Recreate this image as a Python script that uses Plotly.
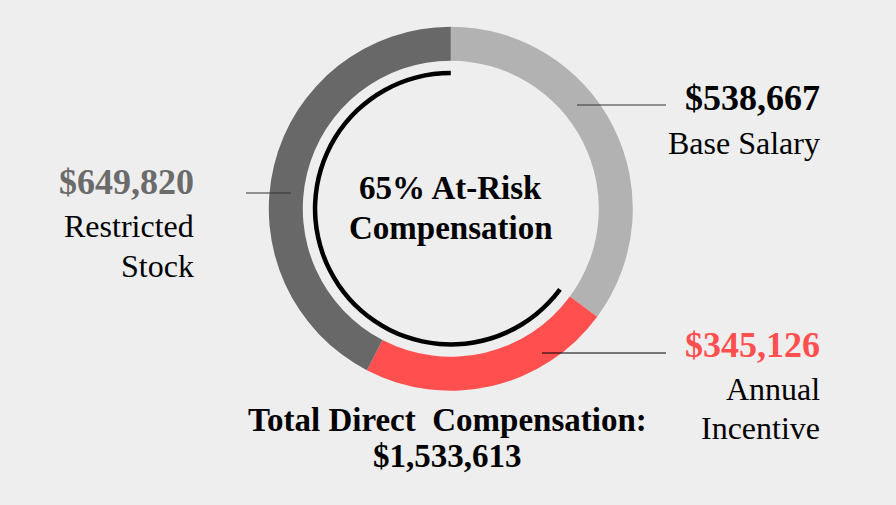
import plotly.graph_objects as go

categories = ["Base Salary", "Annual Incentive", "Restricted Stock"]
values = [538667, 345126, 649820]
slice_colors = ["#b2b2b2", "#ff4f4f", "#686868"]
value_colors = ["#000000", "#ff4f4f", "#6b6b6b"]
at_risk = ["Annual Incentive", "Restricted Stock"]

W, H = 896, 505
BG = "#eeeeee"
FONT = "Liberation Serif"

total = sum(values)
risk_total = sum(v for c, v in zip(categories, values) if c in at_risk)
fixed_total = total - risk_total
risk_pct = round(100 * risk_total / total)

cx, cy = 450.8, 208.7
R_out, R_in = 182, 148
R_arc_out, R_arc_in = 138, 133.5


def dom(r):
    return dict(x=[(cx - r) / W, (cx + r) / W],
                y=[(H - cy - r) / H, (H - cy + r) / H])


fig = go.Figure()
fig.add_trace(go.Pie(
    labels=categories, values=values, sort=False, direction="clockwise",
    rotation=0, hole=R_in / R_out, domain=dom(R_out),
    marker=dict(colors=slice_colors, line=dict(width=0)),
    textinfo="none", hoverinfo="label+value", showlegend=False))
fig.add_trace(go.Pie(
    labels=["Fixed", "At-Risk"], values=[fixed_total, risk_total], sort=False,
    direction="clockwise", rotation=0, hole=R_arc_in / R_arc_out,
    domain=dom(R_arc_out),
    marker=dict(colors=["rgba(0,0,0,0)", "#000000"], line=dict(width=0)),
    textinfo="none", hoverinfo="skip", showlegend=False))


def px(x):
    return x / W


def py(y):
    return 1 - y / H


ann = []


def add(text, x, y, size, color="#000000", bold=False, anchor="right"):
    t = f"<b>{text}</b>" if bold else text
    ann.append(dict(text=t, x=px(x), y=py(y), xref="paper", yref="paper",
                    xanchor=anchor, yanchor="middle", showarrow=False,
                    font=dict(family=FONT, size=size, color=color)))


VS, LS = 36, 32
# Base Salary
add(f"${values[0]:,}", 822, 98, VS, value_colors[0], True)
add("Base Salary", 822, 143, LS)
# Annual Incentive
add(f"${values[1]:,}", 822, 345, VS, value_colors[1], True)
add("Annual", 822, 389, LS)
add("Incentive", 822, 428, LS)
# Restricted Stock
add(f"${values[2]:,}", 196, 182, VS, value_colors[2], True)
add("Restricted", 196, 226, LS)
add("Stock", 196, 266, LS)
# Center
add(f"{risk_pct}% At-Risk", 450.5, 188, 33, bold=True, anchor="center")
add("Compensation", 450.5, 228, 33, bold=True, anchor="center")
# Total
add("Total Direct\u00a0 Compensation:", 447, 420, 33, bold=True, anchor="center")
add(f"${total:,}", 447, 456, 33, bold=True, anchor="center")

shapes = [
    dict(type="line", xref="paper", yref="paper", x0=px(577), x1=px(666),
         y0=py(105), y1=py(105), line=dict(color="#333333", width=1)),
    dict(type="line", xref="paper", yref="paper", x0=px(542), x1=px(666),
         y0=py(353), y1=py(353), line=dict(color="#000000", width=1)),
    dict(type="line", xref="paper", yref="paper", x0=px(246), x1=px(291),
         y0=py(193), y1=py(193), line=dict(color="#333333", width=1)),
]

fig.update_layout(width=W, height=H, margin=dict(l=0, r=0, t=0, b=0),
                  paper_bgcolor=BG, plot_bgcolor=BG,
                  annotations=ann, shapes=shapes)
fig.write_html(
    "out.html",
    config={"displayModeBar": False},
    post_script="document.body.style.margin='0';"
                "document.body.style.background='" + BG + "';",
)
